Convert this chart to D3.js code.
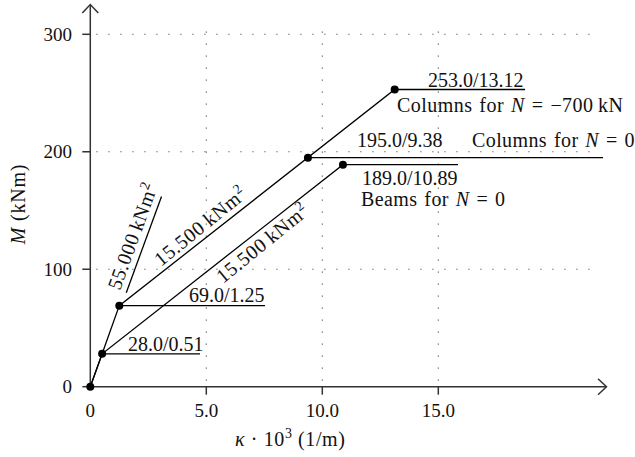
<!DOCTYPE html>
<html>
<head>
<meta charset="utf-8">
<script src="https://cdn.jsdelivr.net/npm/d3@7"></script>
<style>
  body { margin: 0; background: #fff; }
  text { font-family: "Liberation Serif", "DejaVu Serif", serif; fill: #111; }
</style>
</head>
<body>
<div id="chart"></div>
<script>
// données : courbure kappa*10^3 (1/m) / moment M (kNm)
var xTicks = [0, 5, 10, 15];
var yTicks = [0, 100, 200, 300];

// points caractéristiques (kappa, M)
var kPoints = [0, 0.51, 1.25, 9.38, 10.89, 13.12];
var mPoints = [0, 28, 69, 195, 189, 253];

// courbes moment-courbure
var colonnes700 = [[0, 0], [0.51, 28], [1.25, 69], [13.12, 253], [18.74, 253]];
var colonnes0 = [[9.38, 195], [22.1, 195]];
var poutres = [[0, 0], [0.51, 28], [10.89, 189], [15.85, 189]];
var repere28 = [[0.51, 28], [4.73, 28]];
var repere69 = [[1.25, 69], [7.53, 69]];
var pente55 = [[1.55, 80], [3.07, 162]];

var W = 635, H = 457;

var svg = d3.select("#chart")
            .append("svg")
            .attr("width", W)
            .attr("height", H);

var x = d3.scaleLinear().domain([0, 15]).range([90.3, 438.3]);
var y = d3.scaleLinear().domain([0, 300]).range([386.7, 34.3]);

var line = d3.line()
             .x(function(d){return x(d[0]);})
             .y(function(d){return y(d[1]);});

// grille pointillée
var grid = svg.append("g").attr("stroke", "#555").attr("stroke-width", 1.1)
              .attr("stroke-dasharray", "1.2,10.8").attr("fill", "none");

grid.selectAll(".gx")
    .data(xTicks.slice(1))
    .enter()
    .append("line")
    .attr("x1", function(d){return x(d);})
    .attr("x2", function(d){return x(d);})
    .attr("y1", y(0) - 6)
    .attr("y2", y(308));

grid.selectAll(".gy")
    .data(yTicks.slice(1))
    .enter()
    .append("line")
    .attr("x1", x(0) + 6)
    .attr("x2", x(21.9))
    .attr("y1", function(d){return y(d);})
    .attr("y2", function(d){return y(d);});

// axes avec flèches
var axes = svg.append("g").attr("stroke", "#333").attr("stroke-width", 1.5).attr("fill", "none");

axes.append("line").attr("x1", x(0)).attr("x2", 606).attr("y1", y(0)).attr("y2", y(0));
axes.append("path").attr("d", "M598,378.7L606.5," + y(0) + "L598,394.7");
axes.append("line").attr("x1", x(0)).attr("x2", x(0)).attr("y1", y(0) + 2).attr("y2", 5);
axes.append("path").attr("d", "M" + (x(0) - 8) + ",13L" + x(0) + ",4.5L" + (x(0) + 8) + ",13");

axes.selectAll(".tx")
    .data(xTicks.slice(1))
    .enter()
    .append("line")
    .attr("x1", function(d){return x(d);})
    .attr("x2", function(d){return x(d);})
    .attr("y1", y(0))
    .attr("y2", y(0) + 8);

axes.selectAll(".ty")
    .data(yTicks)
    .enter()
    .append("line")
    .attr("x1", x(0) - 8)
    .attr("x2", x(0))
    .attr("y1", function(d){return y(d);})
    .attr("y2", function(d){return y(d);});

var fs = 19;   // graduations
var fl = 20;   // étiquettes

svg.selectAll(".lx")
   .data(xTicks)
   .enter()
   .append("text")
   .attr("x", function(d){return x(d);})
   .attr("y", 417)
   .attr("text-anchor", "middle")
   .attr("font-size", fs)
   .text(function(d){return d == 0 ? "0" : d3.format(".1f")(d);});

svg.selectAll(".ly")
   .data(yTicks)
   .enter()
   .append("text")
   .attr("x", 72)
   .attr("y", function(d){return y(d) + 6.5;})
   .attr("text-anchor", "end")
   .attr("font-size", fs)
   .text(function(d){return d;});

// titres des axes
var tx = svg.append("text").attr("x", 235).attr("y", 446).attr("font-size", fl)
            .attr("letter-spacing", 0.6);
tx.append("tspan").attr("font-style", "italic").text("κ");
tx.append("tspan").text(" · 10");
tx.append("tspan").attr("font-size", 14).attr("dy", -8).text("3");
tx.append("tspan").attr("dy", 8).text("  (1/m)");

var ty = svg.append("text")
            .attr("transform", "translate(25,204) rotate(-90)")
            .attr("text-anchor", "middle")
            .attr("font-size", fl)
            .attr("letter-spacing", 0.8);
ty.append("tspan").attr("font-style", "italic").text("M");
ty.append("tspan").text("  (kNm)");

// courbes
var courbes = svg.append("g").attr("stroke", "#000").attr("stroke-width", 1.3).attr("fill", "none");
[colonnes700, colonnes0, poutres, repere28, repere69, pente55].forEach(function(c){
    courbes.append("path").attr("d", line(c));
});

svg.selectAll(".pt")
   .data(kPoints)
   .enter()
   .append("circle")
   .attr("cx", function(d){return x(d);})
   .attr("cy", function(d, i){return y(mPoints[i]);})
   .attr("r", 4)
   .attr("fill", "#000");

// étiquettes
function label(px, py, parts, rot, ls)
{
    var t = svg.append("text").attr("font-size", fl);
    if(ls) t.attr("letter-spacing", ls).attr("word-spacing", 1.5);
    if(rot) t.attr("transform", "translate(" + px + "," + py + ") rotate(" + rot + ")");
    else t.attr("x", px).attr("y", py);
    parts.forEach(function(p){
        var s = t.append("tspan").text(p.t);
        if(p.i) s.attr("font-style", "italic");
        if(p.sup) s.attr("font-size", 14).attr("dy", -8);
    });
    return t;
}

label(128, 351, [{t: "28.0/0.51"}]);
label(189, 302, [{t: "69.0/1.25"}]);
label(357, 147, [{t: "195.0/9.38"}]);
label(472, 147, [{t: "Columns for "}, {t: "N", i: 1}, {t: " = 0"}], 0, 0.4);
label(362, 185, [{t: "189.0/10.89"}]);
label(361, 206, [{t: "Beams for "}, {t: "N", i: 1}, {t: " = 0"}], 0, 0.4);
label(428, 87, [{t: "253.0/13.12"}]);
label(397, 112, [{t: "Columns for "}, {t: "N", i: 1}, {t: " = −700\u2009kN"}], 0, 0.45);

label(120, 291, [{t: "55.000\u2009kNm"}, {t: "2", sup: 1}], -70, 0.5);
label(161, 267, [{t: "15.500\u2009kNm"}, {t: "2", sup: 1}], -39, 0.6);
label(223, 284, [{t: "15.500\u2009kNm"}, {t: "2", sup: 1}], -39, 0.6);
</script>
</body>
</html>
